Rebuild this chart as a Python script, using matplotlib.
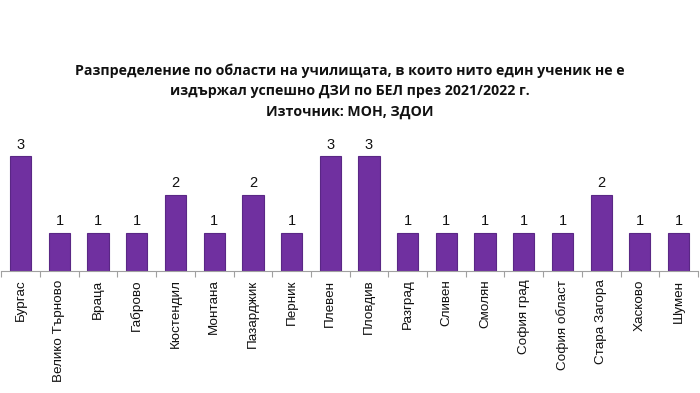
import numpy as np
import matplotlib.pyplot as plt

regions = ['Бургас', 'Велико Търново', 'Враца', 'Габрово', 'Кюстендил', 'Монтана',
           'Пазарджик', 'Перник', 'Плевен', 'Пловдив', 'Разград', 'Сливен',
           'Смолян', 'София град', 'София област', 'Стара Загора', 'Хасково', 'Шумен']
schools = [3, 1, 1, 1, 2, 1, 2, 1, 3, 3, 1, 1, 1, 1, 1, 2, 1, 1]

title = ('Разпределение по области на училищата, в които нито един ученик не е\n'
         'издържал успешно ДЗИ по БЕЛ през 2021/2022 г.\n'
         'Източник: МОН, ЗДОИ')

fig = plt.figure(figsize=(7, 3.93), dpi=100)
ax = fig.add_axes([0.002, 0.31, 0.995, 0.341])

x = np.arange(len(regions))
bars = ax.bar(x, schools, width=0.55, color='#7030A0', edgecolor='#5A2785', linewidth=0.8)

for b, v in zip(bars, schools):
    ax.text(b.get_x() + b.get_width() / 2, v + 0.12, str(v), ha='center', va='bottom',
            fontsize=10.5, family='Liberation Sans', color='#111111')

ax.set_xlim(-0.5, len(regions) - 0.5)
ax.set_ylim(0, 3.5)
ax.set_yticks([])
ax.set_xticks(x)
ax.set_xticklabels(regions, rotation=90, fontsize=9.7, family='Liberation Sans', color='#111111')
ax.set_xticks(np.arange(len(regions) + 1) - 0.5, minor=True)
ax.tick_params(axis='x', which='major', length=0, pad=6)
ax.tick_params(axis='x', which='minor', length=4, color='#a0a0a0', width=0.8)

for s in ['top', 'right', 'left']:
    ax.spines[s].set_visible(False)
ax.spines['bottom'].set_color('#a0a0a0')
ax.spines['bottom'].set_linewidth(0.8)

fig.text(0.5, 0.768, title, ha='center', va='center', fontsize=10.2, fontweight='bold',
         family='Open Sans', linespacing=1.6, color='#111111')

fig.savefig('out.png', dpi=100)
